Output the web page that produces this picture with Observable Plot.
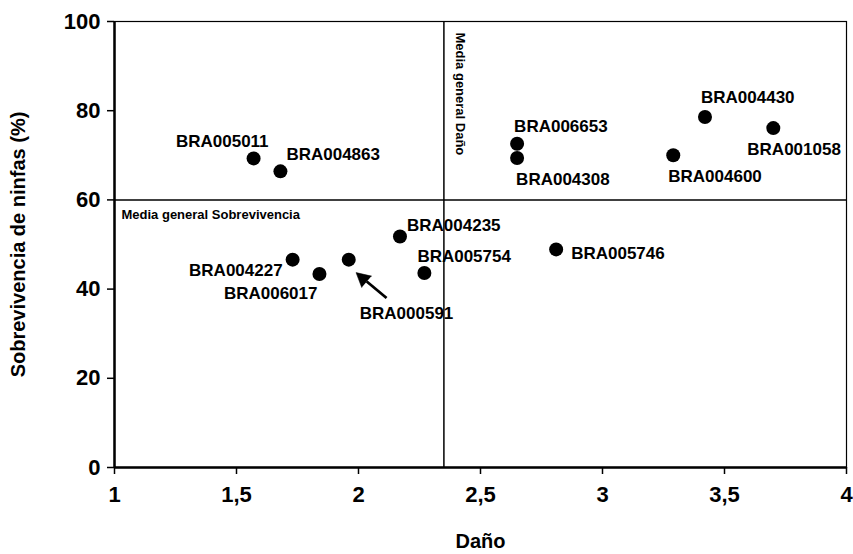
<!DOCTYPE html>
<html>
<head>
<meta charset="utf-8">
<script src="https://cdn.jsdelivr.net/npm/d3@7"></script>
<script src="https://cdn.jsdelivr.net/npm/@observablehq/plot@0.6"></script>
<style>
  html, body { margin: 0; padding: 0; background: #fff; }
  #chart svg { display: block; }
</style>
</head>
<body>
<div id="chart"></div>
<script>
// ---- Data ----
const accessions = ["BRA005011","BRA004863","BRA004227","BRA006017","BRA000591","BRA004235","BRA005754",
                    "BRA006653","BRA004308","BRA005746","BRA004600","BRA004430","BRA001058"];
const dano       = [1.57, 1.68, 1.73, 1.84, 1.96, 2.17, 2.27, 2.65, 2.65, 2.81, 3.29, 3.42, 3.70];
const sobrevivencia = [69.3, 66.4, 46.6, 43.4, 46.6, 51.8, 43.6, 72.6, 69.4, 48.9, 70.0, 78.6, 76.1];
const mediaDano = 2.35;
const mediaSobrevivencia = 60;
const xTicks = [1, 1.5, 2, 2.5, 3, 3.5, 4];
const yTicks = [0, 20, 40, 60, 80, 100];
const arrowFrom = [2.115, 38.0];
const arrowTo = [1.99, 43.7];

// ---- Label layout (pixel offsets, style only) ----
const labelLayout = [
  {anchor: "end",   dx: 15,  dy: -17},
  {anchor: "start", dx: 6,   dy: -17},
  {anchor: "end",   dx: -10, dy: 11},
  {anchor: "end",   dx: -2,  dy: 20},
  {anchor: "start", dx: 11,  dy: 54},
  {anchor: "start", dx: 7,   dy: -11},
  {anchor: "start", dx: -7,  dy: -16},
  {anchor: "start", dx: -3,  dy: -17},
  {anchor: "start", dx: -1,  dy: 22},
  {anchor: "start", dx: 15,  dy: 4},
  {anchor: "start", dx: -5,  dy: 21},
  {anchor: "start", dx: -4,  dy: -19},
  {anchor: "start", dx: -26, dy: 21}
];

const points = accessions.map((name, i) => ({name, x: dano[i], y: sobrevivencia[i]}));
const fmt = d => String(d).replace(".", ",");

const labelMarks = points.map((p, i) => Plot.text([p], {
  x: "x", y: "y", text: "name",
  textAnchor: labelLayout[i].anchor,
  dx: labelLayout[i].dx, dy: labelLayout[i].dy,
  fontSize: 17, fontWeight: "bold", fill: "black"
}));

// shaft ends a bit before the tip so the filled head forms the point
const shaftEnd = [arrowTo[0] + 0.35 * (arrowFrom[0] - arrowTo[0]), arrowTo[1] + 0.35 * (arrowFrom[1] - arrowTo[1])];

const chart = Plot.plot({
  width: 853,
  height: 554,
  marginLeft: 114,
  marginRight: 7,
  marginTop: 21,
  marginBottom: 87,
  style: {fontFamily: "'Liberation Sans', Arial, sans-serif", fontWeight: "bold", fontSize: "22px", color: "black", background: "white"},
  x: {domain: [1, 4], ticks: xTicks, tickFormat: fmt, label: null},
  y: {domain: [0, 100], ticks: yTicks, label: null},
  marks: [
    Plot.frame({stroke: "black", strokeWidth: 1.2}),
    Plot.ruleX([1], {stroke: "black", strokeWidth: 2.5}),
    Plot.ruleY([0], {stroke: "black", strokeWidth: 2.5}),
    Plot.ruleX([mediaDano], {y1: 0, y2: 100, stroke: "black", strokeWidth: 1.5}),
    Plot.ruleY([mediaSobrevivencia], {x1: 1, x2: 4, stroke: "black", strokeWidth: 1.5}),
    Plot.axisX({ticks: xTicks, tickFormat: fmt, tickSize: 7, tickPadding: 12, strokeWidth: 1.5, label: null}),
    Plot.axisY({ticks: yTicks, tickSize: 7, tickPadding: 7, strokeWidth: 1.5, label: null}),
    Plot.text(["Daño"], {frameAnchor: "bottom", lineAnchor: "middle", dy: 74, fontSize: 20, fontWeight: "bold"}),
    Plot.text(["Sobrevivencia de ninfas (%)"], {frameAnchor: "left", textAnchor: "middle", dx: -96, rotate: -90, fontSize: 20, fontWeight: "bold"}),
    Plot.text(["Media general Sobrevivencia"], {x: 1, y: mediaSobrevivencia, textAnchor: "start", dx: 7, dy: 15, fontSize: 13, fontWeight: "bold"}),
    Plot.text(["Media general Daño"], {x: mediaDano, y: 100, textAnchor: "start", rotate: 90, dx: 16, dy: 11, fontSize: 13, fontWeight: "bold"}),
    Plot.dot(points, {x: "x", y: "y", r: 7, fill: "black", stroke: "none"}),
    Plot.link([{x1: arrowFrom[0], y1: arrowFrom[1], x2: shaftEnd[0], y2: shaftEnd[1]}],
      {x1: "x1", y1: "y1", x2: "x2", y2: "y2", stroke: "black", strokeWidth: 2.8}),
    Plot.vector([{x: arrowTo[0], y: arrowTo[1]}],
      {x: "x", y: "y", shape: "spike", anchor: "end", length: 14, r: 7.5, rotate: -49, fill: "black", stroke: "black", strokeWidth: 0.5}),
    ...labelMarks
  ]
});
document.getElementById("chart").appendChild(chart);
</script>
</body>
</html>
